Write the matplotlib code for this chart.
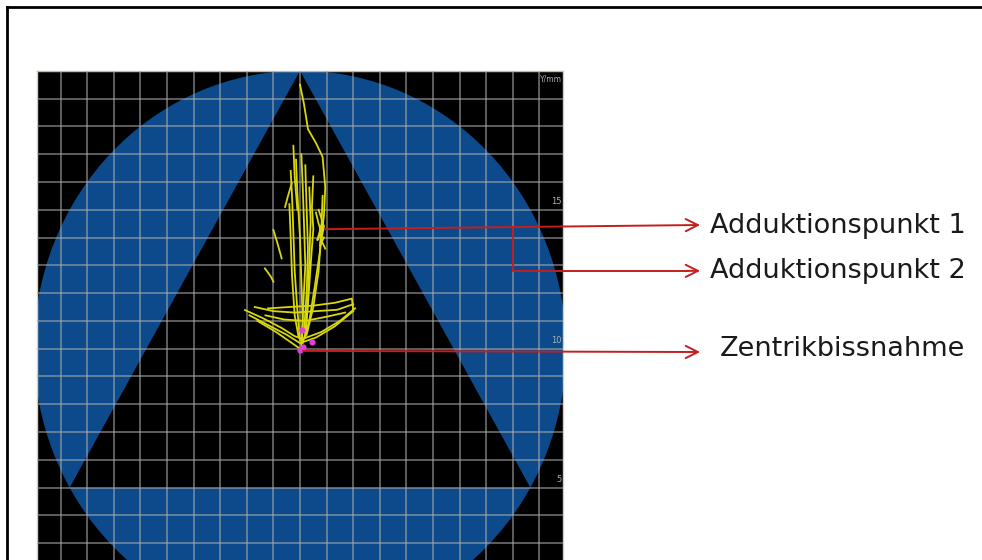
import matplotlib
matplotlib.use("Agg")
import matplotlib.pyplot as plt
from matplotlib.patches import Circle, Polygon
from matplotlib.lines import Line2D

# jaw tracking traces in mm (x lateral, y vertical)
traces = [
    [(0.0, 19.5), (0.15, 18.8), (0.3, 17.9), (0.6, 17.4), (0.85, 16.9), (0.95, 15.8),
     (0.9, 14.8), (0.75, 13.5), (0.55, 12.2), (0.35, 11.0), (0.1, 10.2)],
    [(-0.35, 16.4), (-0.3, 15.5), (-0.25, 14.2), (-0.2, 12.8), (-0.1, 11.4), (0.0, 10.3)],
    [(-0.15, 16.8), (-0.1, 15.6), (0.0, 14.0), (0.05, 12.5), (0.1, 11.0), (0.05, 10.1)],
    [(0.2, 16.6), (0.25, 15.0), (0.3, 13.6), (0.25, 12.0), (0.15, 10.6)],
    [(0.5, 16.2), (0.45, 15.1), (0.5, 14.3), (0.4, 13.0), (0.3, 11.6), (0.2, 10.4)],
    [(0.05, 17.0), (0.1, 15.9), (0.15, 14.5), (0.2, 13.0), (0.12, 11.5), (0.08, 10.3)],
    [(-0.4, 15.2), (-0.35, 14.0), (-0.3, 12.6), (-0.2, 11.2), (-0.05, 10.4)],
    [(0.35, 15.8), (0.4, 14.6), (0.35, 13.2), (0.3, 11.8), (0.2, 10.5)],
    [(0.85, 15.5), (0.8, 14.2), (0.7, 12.8), (0.5, 11.5), (0.25, 10.5)],
    [(-0.25, 17.3), (-0.2, 16.2), (-0.1, 15.0)],
    [(-0.31, 15.95), (-0.45, 15.5), (-0.56, 15.1)],
    [(-1.0, 14.27), (-0.85, 13.8), (-0.69, 13.25)],
    [(-1.32, 12.89), (-1.1, 12.6), (-1.0, 12.41)],
    [(0.6, 14.9), (0.7, 14.5), (0.8, 14.2), (0.65, 13.9), (0.85, 14.6), (0.75, 13.7), (0.9, 14.0)],
    [(0.7, 15.0), (0.9, 14.4), (0.8, 13.9), (0.95, 13.6)],
    [(-2.07, 11.39), (-1.4, 11.1), (-0.7, 10.75), (-0.2, 10.45), (0.1, 10.35), (0.8, 10.6),
     (1.5, 11.0), (2.07, 11.45)],
    [(-1.9, 11.2), (-1.2, 10.85), (-0.5, 10.5), (0.0, 10.2), (0.6, 10.4), (1.3, 10.8), (2.0, 11.35)],
    [(-1.7, 11.5), (-1.0, 11.35), (-0.2, 11.3), (0.6, 11.35), (1.4, 11.4), (2.0, 11.6)],
    [(-1.6, 11.0), (-0.9, 10.6), (-0.3, 10.2), (0.0, 10.0)],
    [(-1.2, 11.45), (-0.4, 11.5), (0.5, 11.55), (1.3, 11.65), (1.95, 11.8), (2.0, 11.4)],
    [(-1.3, 11.2), (-0.6, 11.05), (0.2, 11.0), (1.0, 11.15), (1.7, 11.3)],
]
# centric bite points
bite_x = [0.06, 0.13, 0.44, 0.0]
bite_y = [10.67, 10.07, 10.25, 9.95]

labels = ["Adduktionspunkt 1", "Adduktionspunkt 2", "Zentrikbissnahme"]
add_point = (0.94, 14.3)
bite_point = (0.11, 9.92)
y_ticks = [5, 10, 15]

fig = plt.figure(figsize=(9.82, 5.60), dpi=100)
ax = fig.add_axes([37 / 982, -0.119, 526 / 982, 0.9927])
ax.set_facecolor("black")
ax.set_xlim(-9.887, 9.887)
ax.set_ylim(0, 20)

# occlusal field: circle with triangular cut-out
ax.add_patch(Circle((0, 10), 10, facecolor="#0c4a8c", edgecolor="none", zorder=1))
ax.add_patch(Polygon([(0, 20), (-8.66, 5), (8.66, 5)], closed=True,
                     facecolor="black", edgecolor="none", zorder=2))

ax.set_xticks(range(-9, 10))
ax.set_yticks(range(0, 21))
ax.grid(True, color="#a8a8a8", lw=1.3, alpha=0.6, zorder=3)
ax.set_axisbelow(False)
ax.tick_params(length=0, labelbottom=False, labelleft=False)
for side, sp in ax.spines.items():
    sp.set_color("#d8d0c0")
    sp.set_linewidth(1.0)

for tr in traces:
    xs = [p[0] for p in tr]
    ys = [p[1] for p in tr]
    ax.plot(xs, ys, color="#d8d80c", lw=1.3, zorder=4)
ax.scatter(bite_x, bite_y, s=12, color="#e040e0", zorder=5)

for t in y_ticks:
    ax.text(9.85, t + 0.12, str(t), ha="right", va="bottom", fontsize=6, color="#a8b0b8", zorder=6)
ax.text(9.85, 19.85, "Y/mm", ha="right", va="top", fontsize=5.5, color="#a8b0b8", zorder=6)

red = "#c41e1e"
arrow = dict(arrowstyle="->", color=red, lw=1.4, mutation_scale=22, shrinkA=0, shrinkB=0)
# point 1
ax.annotate("", xy=(15.04, 14.45), xytext=add_point, arrowprops=arrow, annotation_clip=False, zorder=7)
# point 2 branches off the first line
ax.plot([8.0, 8.0, 14.6], [14.36, 12.8, 12.8], color=red, lw=1.4, clip_on=False, zorder=7)
ax.annotate("", xy=(15.04, 12.8), xytext=(14.5, 12.8), arrowprops=arrow, annotation_clip=False, zorder=7)
# centric bite
ax.annotate("", xy=(15.04, 9.88), xytext=bite_point, arrowprops=arrow, annotation_clip=False, zorder=7)

ax.text(15.41, 14.41, labels[0], ha="left", va="center", fontsize=19.5, color="#1a1a1a")
ax.text(15.41, 12.79, labels[1], ha="left", va="center", fontsize=19.5, color="#1a1a1a")
ax.text(15.79, 9.99, labels[2], ha="left", va="center", fontsize=19.5, color="#1a1a1a")

# page frame, top and left edges
fig.add_artist(Line2D([7 / 982, 1.0], [1 - 6.5 / 560, 1 - 6.5 / 560], color="black", lw=2.0))
fig.add_artist(Line2D([7 / 982, 7 / 982], [0, 1 - 6.5 / 560], color="black", lw=2.0))

fig.savefig("out.png", dpi=100)
